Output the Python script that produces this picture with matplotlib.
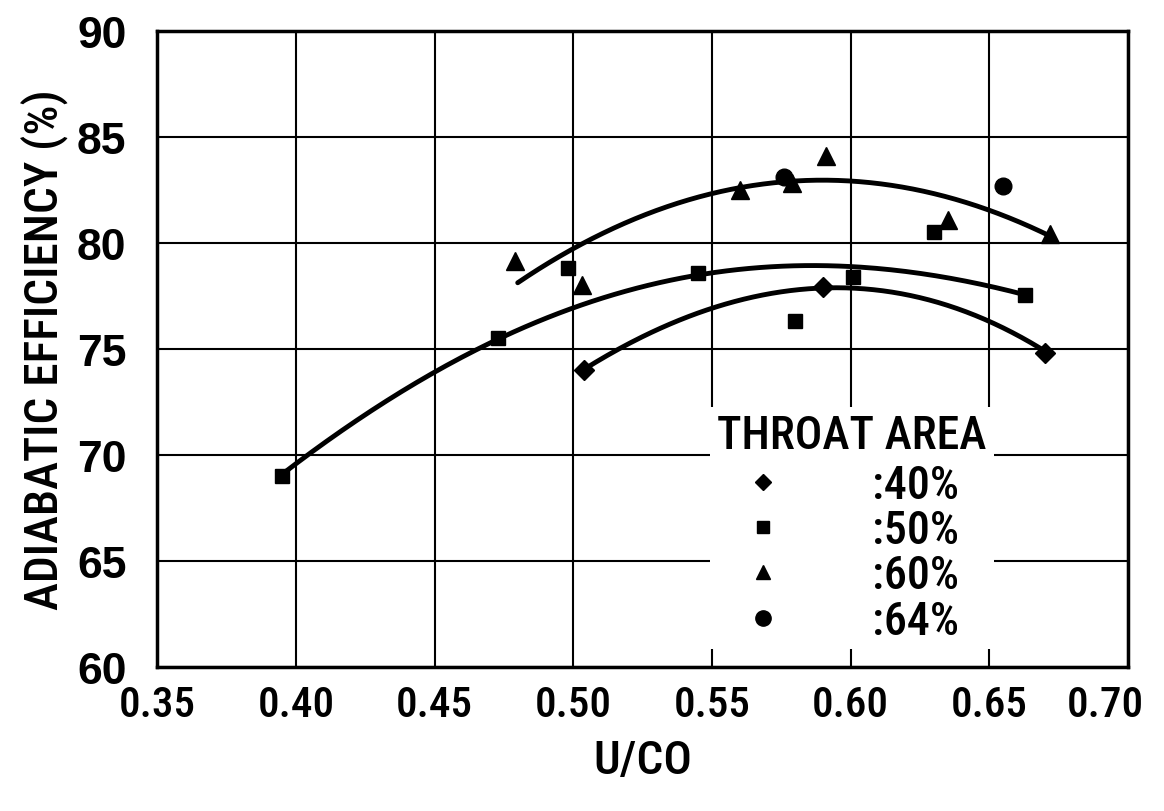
import numpy as np
import matplotlib
matplotlib.use("Agg")
import matplotlib.pyplot as plt
import matplotlib.transforms as mtransforms
from matplotlib.lines import Line2D

# measured points, U/CO vs adiabatic efficiency, by throat area
x40 = [0.504, 0.590, 0.670]
y40 = [74.0, 77.9, 74.8]
x50 = [0.395, 0.473, 0.498, 0.545, 0.580, 0.601, 0.630, 0.663]
y50 = [69.0, 75.5, 78.8, 78.6, 76.3, 78.4, 80.5, 77.55]
x60 = [0.479, 0.503, 0.560, 0.579, 0.591, 0.635, 0.672]
y60 = [79.15, 78.0, 82.5, 82.8, 84.1, 81.1, 80.4]
x64 = [0.576, 0.655]
y64 = [83.1, 82.7]

# points
cx40 = [0.504, 0.524, 0.550, 0.590, 0.600, 0.650, 0.670]
cy40 = [74.0, 75.6, 76.9, 77.88, 77.8, 76.4, 74.85]
cx50 = [0.395, 0.402, 0.438, 0.450, 0.473, 0.500, 0.528, 0.545, 0.585, 0.600, 0.650, 0.663]
cy50 = [69.0, 69.9, 72.97, 73.9, 75.47, 76.9, 78.0, 78.58, 78.9, 78.87, 77.97, 77.55]
cx60 = [0.480, 0.500, 0.526, 0.550, 0.576, 0.600, 0.627, 0.650, 0.6715]
cy60 = [78.16, 79.7, 81.2, 82.45, 82.92, 82.88, 82.4, 81.5, 80.38]

xticks = [0.35, 0.40, 0.45, 0.50, 0.55, 0.60, 0.65, 0.70]
yticks = [60, 65, 70, 75, 80, 85, 90]
labels = [':40%', ':50%', ':60%', ':64%']

narrow = ['Roboto Condensed', 'Archivo Narrow', 'PT Sans Narrow', 'Barlow Condensed',
          'Encode Sans Condensed', 'DejaVu Sans']

fig = plt.figure(figsize=(11.64, 8.12), dpi=100)
ax = fig.add_axes([0.135, 0.177, 0.834, 0.784])

def trend(cx, cy, deg):
    p = np.polyfit(cx, cy, deg)
    xs = np.linspace(cx[0], cx[-1], 200)
    ax.plot(xs, np.polyval(p, xs), color='black', lw=3.5, solid_capstyle='round', zorder=3)

trend(cx40, cy40, 3)
trend(cx50, cy50, 4)
trend(cx60, cy60, 3)

ax.plot(x40, y40, 'D', color='black', ms=10, ls='none', zorder=4)
ax.plot(x50, y50, 's', color='black', ms=10, ls='none', zorder=4)
ax.plot(x60, y60, '^', color='black', ms=13, ls='none', zorder=4)
ax.plot(x64, y64, 'o', color='black', ms=12, ls='none', zorder=4)

ax.set_xlim(0.35, 0.70)
ax.set_ylim(60, 90)
ax.set_xticks(xticks)
ax.set_xticklabels(['%.2f' % v for v in xticks], family=narrow, fontsize=31, fontweight='medium')
ax.set_yticks(yticks)
ax.set_yticklabels([str(v) for v in yticks], family=['Liberation Sans', 'DejaVu Sans'],
                   fontsize=32, fontweight='bold')
ax.tick_params(axis='y', length=0, pad=22)
ax.tick_params(axis='x', length=0, pad=12)
ax.grid(True, color='black', lw=1.5)
ax.set_axisbelow(True)
for s in ax.spines.values():
    s.set_linewidth(2.5)

# last x label sits a little left so it stays on the page
last = ax.get_xticklabels()[-1]
last.set_transform(last.get_transform() + mtransforms.ScaledTranslation(-16 / 72, 0, fig.dpi_scale_trans))

ax.set_xlabel('U/CO', family=narrow, fontsize=34, fontweight='medium', labelpad=10)
ax.set_ylabel('ADIABATIC EFFICIENCY (%)', family=narrow, fontsize=34, fontweight='medium',
              labelpad=6)

handles = [
    Line2D([], [], marker='D', color='black', ls='none', ms=8),
    Line2D([], [], marker='s', color='black', ls='none', ms=8),
    Line2D([], [], marker='^', color='black', ls='none', ms=10),
    Line2D([], [], marker='o', color='black', ls='none', ms=11),
]
leg = ax.legend(handles, labels, loc='upper left', bbox_to_anchor=(0.570, 0.409),
                borderaxespad=0, borderpad=0.15, handlelength=2.0, handletextpad=1.38,
                labelspacing=0.05, frameon=True, facecolor='white', edgecolor='none',
                framealpha=1, fancybox=False, title='THROAT AREA', alignment='left',
                prop={'family': narrow, 'size': 33, 'weight': 'medium'},
                title_fontproperties={'family': narrow, 'size': 33, 'weight': 'medium'})
leg._legend_box.sep = 5  # a bit more room under the title
leg.set_zorder(5)

fig.savefig('out.png', dpi=100)
